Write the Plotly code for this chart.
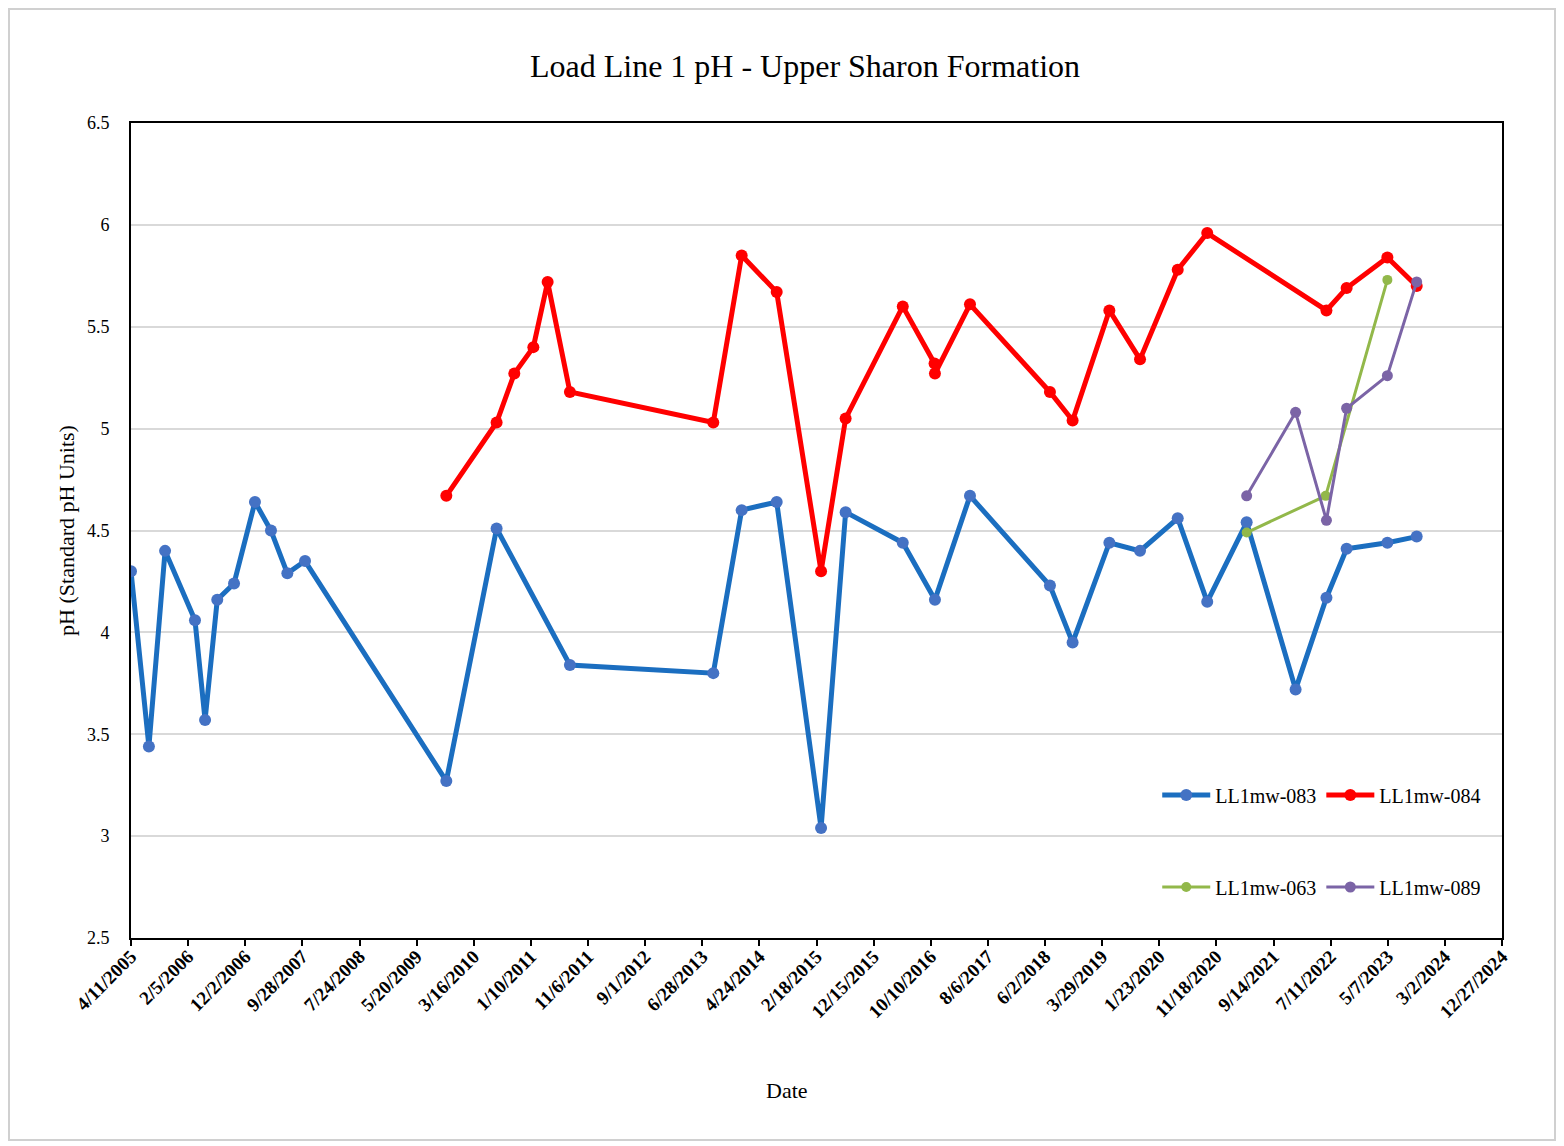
import plotly.graph_objects as go

# ---- data ----
dates_083 = ["2005-04-11", "2005-07-14", "2005-10-07", "2006-03-13", "2006-05-05", "2006-07-08",
             "2006-10-04", "2007-01-22", "2007-04-16", "2007-07-11", "2007-10-12", "2009-10-23",
             "2010-07-14", "2011-08-03", "2013-08-25", "2014-01-21", "2014-07-24", "2015-03-14",
             "2015-07-21", "2016-05-16", "2016-11-01", "2017-05-04", "2018-06-28", "2018-10-25",
             "2019-05-06", "2019-10-14", "2020-04-29", "2020-10-01", "2021-04-26", "2022-01-08",
             "2022-06-19", "2022-10-03", "2023-05-05", "2023-10-06"]
ph_083 = [4.30, 3.44, 4.40, 4.06, 3.57, 4.16,
          4.24, 4.64, 4.50, 4.29, 4.35, 3.27,
          4.51, 3.84, 3.80, 4.60, 4.64, 3.04,
          4.59, 4.44, 4.16, 4.67, 4.23, 3.95,
          4.44, 4.40, 4.56, 4.15, 4.54, 3.72,
          4.17, 4.41, 4.44, 4.47]

dates_084 = ["2009-10-23", "2010-07-14", "2010-10-15", "2011-01-23", "2011-04-08", "2011-08-03",
             "2013-08-25", "2014-01-21", "2014-07-24", "2015-03-14", "2015-07-21", "2016-05-16",
             "2016-10-30", "2016-11-01", "2017-05-04", "2018-06-28", "2018-10-25", "2019-05-06",
             "2019-10-14", "2020-04-29", "2020-10-01", "2022-06-19", "2022-10-03", "2023-05-05",
             "2023-10-06"]
ph_084 = [4.67, 5.03, 5.27, 5.40, 5.72, 5.18,
          5.03, 5.85, 5.67, 4.30, 5.05, 5.60,
          5.32, 5.27, 5.61, 5.18, 5.04, 5.58,
          5.34, 5.78, 5.96, 5.58, 5.69, 5.84,
          5.70]

dates_063 = ["2021-04-26", "2022-06-15", "2023-05-05"]
ph_063 = [4.49, 4.67, 5.73]

dates_089 = ["2021-04-26", "2022-01-08", "2022-06-19", "2022-10-03", "2023-05-05", "2023-10-06"]
ph_089 = [4.67, 5.08, 4.55, 5.10, 5.26, 5.72]

x_start = "2005-04-11"
x_end = "2024-12-27"
tick_step_days = 300

serif = "Liberation Serif, Times New Roman, serif"

# figure geometry (page is offset by 8px body margin)
W, H = 1556, 1138
ML, MT, MR, MB = 123, 115, 62, 208
PW = W - ML - MR
PH = H - MT - MB

fig = go.Figure()
fig.add_trace(go.Scatter(x=dates_083, y=ph_083, name="LL1mw-083", mode="lines+markers",
                         line=dict(color="#1B6EC0", width=5),
                         marker=dict(color="#4472C4", size=12), legend="legend"))
fig.add_trace(go.Scatter(x=dates_084, y=ph_084, name="LL1mw-084", mode="lines+markers",
                         line=dict(color="#FF0000", width=5),
                         marker=dict(color="#FF0000", size=12), legend="legend"))
fig.add_trace(go.Scatter(x=dates_063, y=ph_063, name="LL1mw-063", mode="lines+markers",
                         line=dict(color="#92B84A", width=3),
                         marker=dict(color="#92B84A", size=10), legend="legend2"))
fig.add_trace(go.Scatter(x=dates_089, y=ph_089, name="LL1mw-089", mode="lines+markers",
                         line=dict(color="#7B64A6", width=3),
                         marker=dict(color="#7B64A6", size=11), legend="legend2"))

fig.update_layout(
    width=W, height=H,
    margin=dict(l=ML, r=MR, t=MT, b=MB),
    paper_bgcolor="white", plot_bgcolor="white",
    font=dict(family=serif, color="black", size=16),
    title=dict(text="Load Line 1 pH - Upper Sharon Formation", x=(797 - ML) / PW, xref="paper",
               xanchor="center", y=1 - 58 / H, yanchor="middle", font=dict(family=serif, size=32)),
    xaxis=dict(type="date", range=[x_start, x_end], tick0=x_start,
               dtick=tick_step_days * 86400000, tickformat="%-m/%-d/%Y", tickangle=-45,
               ticks="outside", ticklen=6, tickwidth=2, tickcolor="black",
               ticklabelstandoff=-8,
               showline=True, linecolor="black", linewidth=2, mirror=True,
               showgrid=False, zeroline=False,
               tickfont=dict(family=serif, size=19, weight="bold")),
    yaxis=dict(range=[2.5, 6.5], dtick=0.5, tick0=2.5,
               showline=True, linecolor="black", linewidth=2, mirror=True,
               showgrid=True, gridcolor="#D9D9D9", gridwidth=2, zeroline=False,
               ticks="", ticklabelstandoff=16, tickfont=dict(family=serif, size=18),
               title=dict(text="pH (Standard pH Units)", font=dict(family=serif, size=22), standoff=6)),
    legend=dict(orientation="h", x=0.9885, xanchor="right", y=(938 - 795) / 815, yanchor="middle",
                bgcolor="rgba(0,0,0,0)", font=dict(family=serif, size=20), itemwidth=48,
                tracegroupgap=0),
    legend2=dict(orientation="h", x=0.9885, xanchor="right", y=(938 - 887) / 815, yanchor="middle",
                 bgcolor="rgba(0,0,0,0)", font=dict(family=serif, size=20), itemwidth=48,
                 tracegroupgap=0),
    annotations=[dict(text="Date", xref="paper", yref="paper",
                      x=(779 - ML) / PW, y=(PH + MT - 1082) / PH,
                      xanchor="center", yanchor="middle", showarrow=False,
                      font=dict(family=serif, size=22))],
    shapes=[dict(type="rect", xref="paper", yref="paper",
                 x0=(1 - ML) / PW, x1=(1547 - ML) / PW,
                 y0=(PH + MT - 1132) / PH, y1=(PH + MT - 1) / PH,
                 line=dict(color="#D0D0D0", width=2), fillcolor="rgba(0,0,0,0)", layer="below")],
)

fig.write_html("out.html")
